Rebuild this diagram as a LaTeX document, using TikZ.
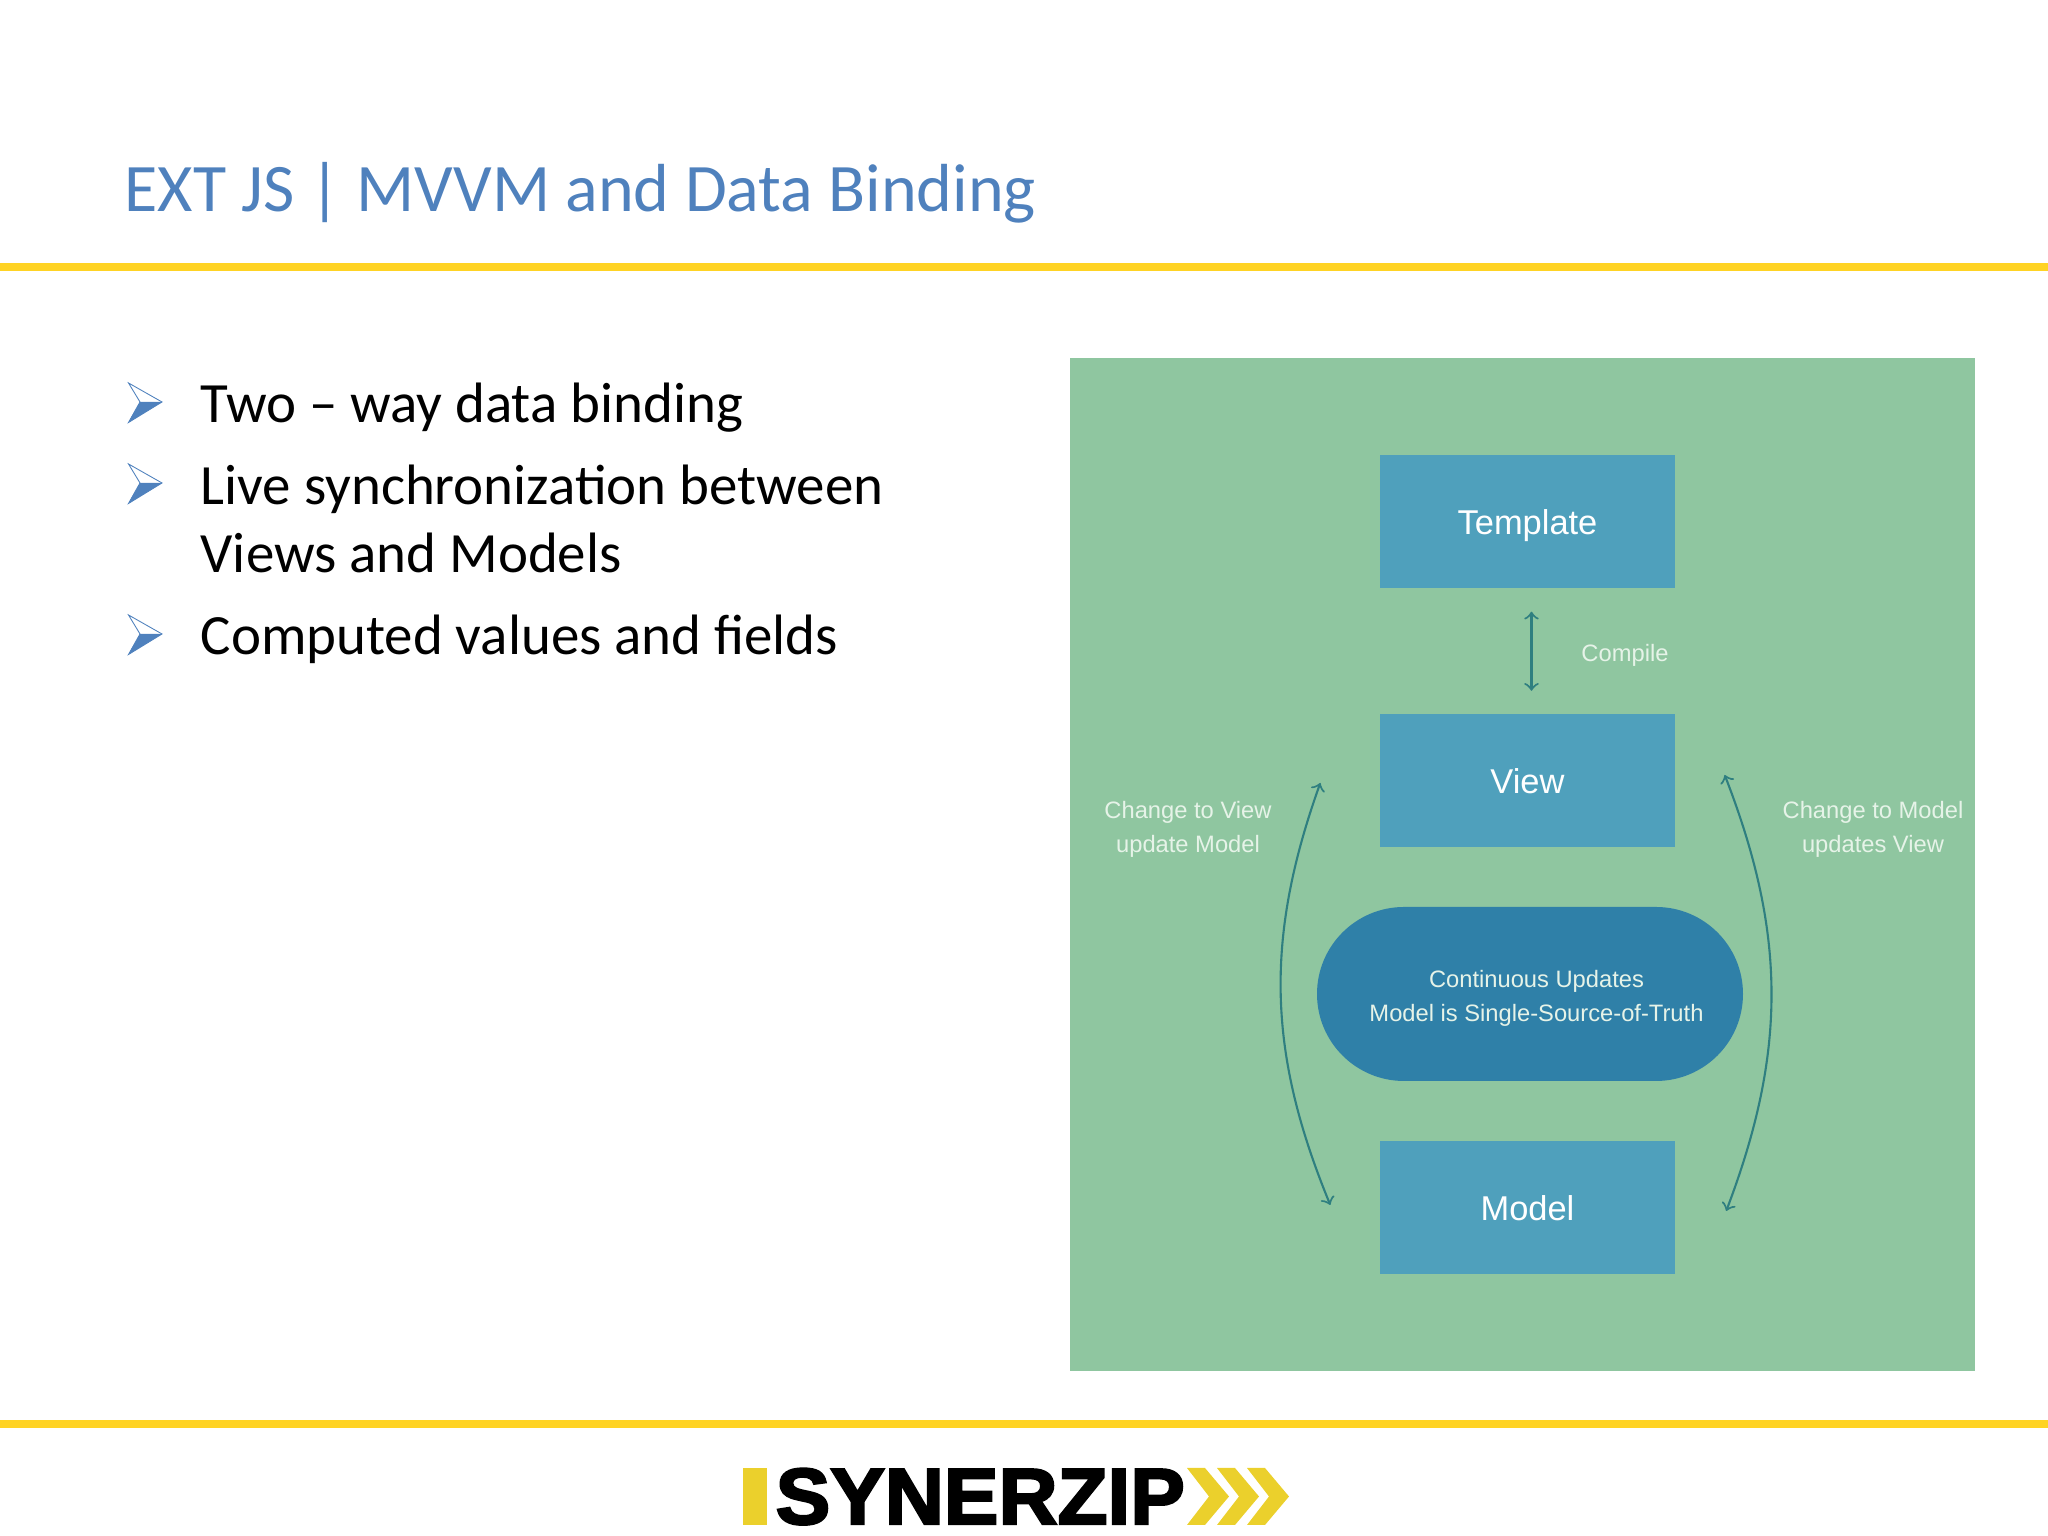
\documentclass[tikz,border=0pt]{standalone}
\usepackage{fontspec}
\setmainfont{Carlito}
\newfontfamily\labelfont{Liberation Sans}
\newfontfamily\logofont{Liberation Sans Bold}[FakeBold=3,FakeStretch=1.03]
\definecolor{slideblue}{HTML}{4F81BD}
\definecolor{ruleyellow}{HTML}{FFD324}
\definecolor{panelgreen}{HTML}{8FC6A0}
\definecolor{boxblue}{HTML}{4FA0BC}
\definecolor{pillblue}{HTML}{2F80A8}
\definecolor{flowgreen}{HTML}{2F7F80}
\definecolor{softwhite}{HTML}{E6F3E8}
\definecolor{logoyellow}{HTML}{EBD02C}
\tikzset{
  rulebar/.style={ruleyellow,line width=0.08cm},
  bodytext/.style={anchor=base west,inner sep=0pt,align=left,font=\fontsize{16.2}{19.35}\selectfont},
  viewbox/.style={fill=boxblue,text=white,minimum width=2.95cm,minimum height=1.33cm,inner sep=0pt,text height=.25cm,text depth=0pt,font=\labelfont\fontsize{9.8}{12}\selectfont},
  note/.style={text=softwhite,inner sep=0pt,align=center,font=\labelfont\fontsize{6.75}{9.7}\selectfont},
  flow/.style={<->,flowgreen,line width=.6pt},
}
\begin{document}
\begin{tikzpicture}
\useasboundingbox (0,0) rectangle (20.48,15.36);

\node[anchor=base west,inner sep=0pt,text=slideblue,font=\fontsize{19.35}{23}\selectfont] (title) at (1.24,13.24) {EXT JS | MVVM and Data Binding};
\draw[rulebar] (0,12.69)--(20.48,12.69);
\draw[rulebar] (0,1.12)--(20.48,1.12);

% bullets
\foreach \by in {11.34,10.53,9.02}{
  \draw[slideblue,line width=.25pt] (1.285,\by+.19)--(1.62,\by)--(1.285,\by-.205)--(1.40,\by)--cycle;
  \fill[slideblue] (1.285,\by-.205)--(1.62,\by)--(1.40,\by)--cycle;
}
\node[bodytext] (first) at (2.00,11.13) {Two -- way data binding};
\node[bodytext] (second) at (2.00,9.63) {Live synchronization between\\Views and Models};
\node[bodytext] (third) at (2.00,8.81) {Computed values and fields};

% panel
\fill[panelgreen] (10.70,1.65) rectangle (19.75,11.78);
\node[viewbox] (template) at (15.275,10.14) {Template};
\node[viewbox] (view) at (15.275,7.55) {View};
\node[viewbox] (model) at (15.275,3.28) {Model};
\node[fill=pillblue,rounded corners=.87cm,minimum width=4.26cm,minimum height=1.74cm,inner sep=0pt] (truth) at (15.30,5.42) {};
\node[note] (truthnote) at (15.365,5.38) {Continuous Updates\\Model is Single-Source-of-Truth};

\node[note] (compile) at (16.25,8.81) {Compile};
\node[note] (leftnote) at (11.88,7.07) {Change to View\\update Model};
\node[note] (rightnote) at (18.73,7.07) {Change to Model\\updates View};

\coordinate (viewleft) at ([xshift=-.59cm,yshift=-.02cm]view.west);
\coordinate (modelleft) at ([xshift=-.49cm,yshift=.03cm]model.west);
\coordinate (viewright) at ([xshift=.49cm,yshift=.06cm]view.east);
\coordinate (modelright) at ([xshift=.505cm,yshift=-.03cm]model.east);

\draw[flow,shorten <=.225cm,shorten >=.23cm] ([xshift=.04cm]template.south)--([xshift=.04cm]view.north);
\draw[flow] (viewleft) to[bend right=21] (modelleft);
\draw[flow] (viewright) to[bend left=21] (modelright);

% logo
\fill[logoyellow] (7.43,.11) rectangle (7.67,.68);
\node[anchor=base west,inner sep=0pt,font=\logofont\fontsize{22.6}{24}\selectfont] (logo) at (7.75,.12) {SYNERZIP};
\foreach \cx in {11.87,12.17,12.47}{
  \fill[logoyellow] (\cx,.68)--(\cx+.18,.68)--(\cx+.42,.395)--(\cx+.18,.11)--(\cx,.11)--(\cx+.22,.395)--cycle;
}
\end{tikzpicture}
\end{document}
